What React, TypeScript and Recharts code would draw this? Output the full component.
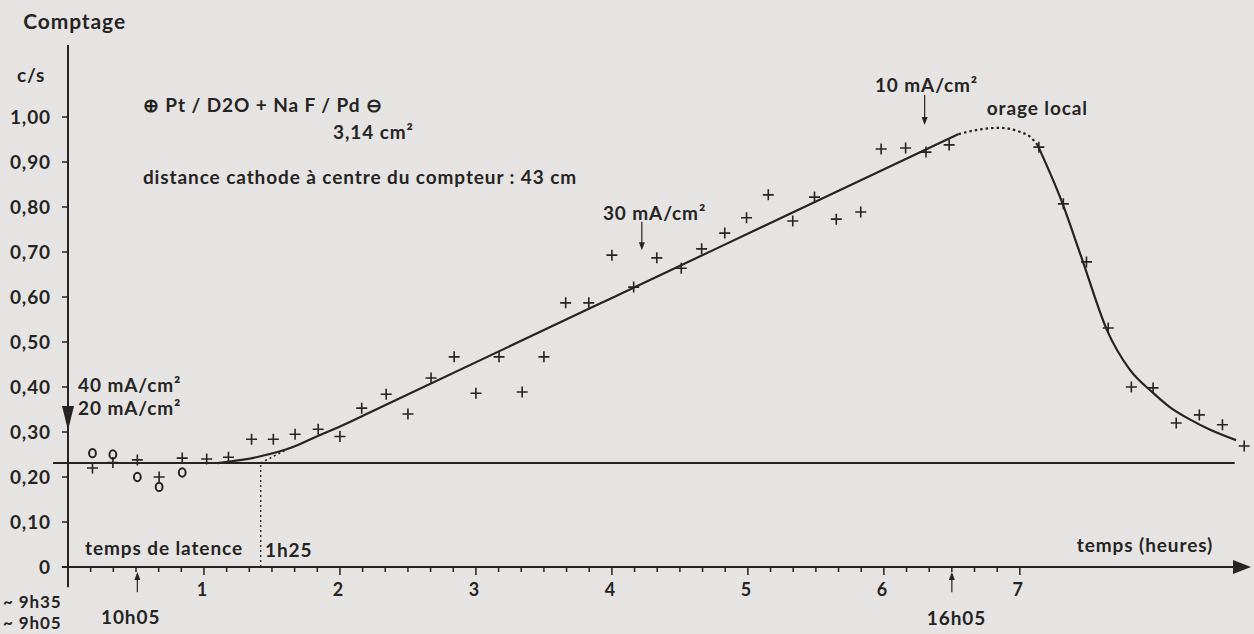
import { ComposedChart, Scatter, Line, XAxis, YAxis, ReferenceLine, ReferenceDot } from "recharts";

// hours since ~9h35, counts in c/s
const crossHours = [
  0.18, 0.33, 0.51, 0.67, 0.84, 1.02, 1.18, 1.35, 1.51, 1.67, 1.84, 2.0, 2.16, 2.34, 2.5, 2.67, 2.84,
  3.0, 3.17, 3.34, 3.5, 3.66, 3.83, 4.0, 4.16, 4.33, 4.51, 4.66, 4.83, 4.99, 5.15, 5.33, 5.49, 5.65,
  5.83, 5.98, 6.16, 6.31, 6.48, 7.14, 7.32, 7.49, 7.65, 7.82, 7.98, 8.15, 8.32, 8.49, 8.65,
];
const crossCounts = [
  0.22, 0.232, 0.238, 0.2, 0.242, 0.24, 0.244, 0.284, 0.284, 0.295, 0.306, 0.29, 0.353, 0.384, 0.34,
  0.42, 0.467, 0.386, 0.467, 0.389, 0.467, 0.587, 0.587, 0.693, 0.622, 0.687, 0.664, 0.707, 0.742,
  0.776, 0.827, 0.769, 0.822, 0.773, 0.789, 0.929, 0.931, 0.922, 0.938, 0.933, 0.807, 0.678, 0.531,
  0.4, 0.398, 0.32, 0.338, 0.316, 0.269,
];
const circleHours = [0.18, 0.33, 0.51, 0.67, 0.84];
const circleCounts = [0.253, 0.25, 0.2, 0.178, 0.21];

// hand-drawn fit curve
const riseHours = [1.1, 1.4, 1.65, 1.85, 2.0, 2.3, 4.0, 5.5, 6.55];
const riseCounts = [0.231, 0.245, 0.266, 0.293, 0.312, 0.355, 0.598, 0.812, 0.962];
const stormHours = [6.55, 6.7, 6.85, 7.0, 7.08, 7.13];
const stormCounts = [0.962, 0.972, 0.976, 0.967, 0.955, 0.938];
const fallHours = [7.13, 7.31, 7.46, 7.64, 7.81, 7.98, 8.1, 8.25, 8.4, 8.59];
const fallCounts = [0.938, 0.811, 0.682, 0.527, 0.438, 0.387, 0.356, 0.328, 0.305, 0.282];
const extraHours = [1.417, 1.65];
const extraCounts = [0.231, 0.268];

const baseline = 0.231;
const latency = 1.417; // 1h25
const countTicks = [0, 0.1, 0.2, 0.3, 0.4, 0.5, 0.6, 0.7, 0.8, 0.9, 1.0];
const hourTicks = Array.from({ length: 42 }, (_, i) => (i + 1) / 6);

const zip = (xs: number[], ys: number[]) => xs.map((x, i) => ({ x, y: ys[i] }));
const crosses = zip(crossHours, crossCounts);
const circles = zip(circleHours, circleCounts);

const INK = "#252423";
const FONT = "Lato, 'Open Sans', sans-serif";

const notes = [
  { x: -0.33, y: 1.211, text: "Comptage", size: 21 },
  { x: -0.375, y: 1.093, text: "c/s" },
  { x: 0.551, y: 1.027, text: "⊕ Pt / D2O + Na F / Pd ⊖" },
  { x: 1.949, y: 0.967, text: "3,14 cm²" },
  { x: 0.551, y: 0.867, text: "distance cathode à centre du compteur : 43 cm" },
  { x: 0.074, y: 0.404, text: "40 mA/cm²" },
  { x: 0.074, y: 0.353, text: "20 mA/cm²" },
  { x: 0.125, y: 0.042, text: "temps de latence" },
  { x: 1.449, y: 0.038, text: "1h25" },
  { x: 3.934, y: 0.787, text: "30 mA/cm²" },
  { x: 5.934, y: 1.071, text: "10 mA/cm²" },
  { x: 6.757, y: 1.02, text: "orage local" },
  { x: 7.419, y: 0.049, text: "temps (heures)" },
  { x: -0.478, y: -0.078, text: "~ 9h35", size: 17 },
  { x: -0.478, y: -0.124, text: "~ 9h05", size: 17 },
  { x: 0.243, y: -0.111, text: "10h05" },
  { x: 6.316, y: -0.113, text: "16h05" },
];

const arrows = [
  { x: 4.22, from: 0.767, to: 0.704 },
  { x: 6.3, from: 1.049, to: 0.982 },
  { x: 0.51, from: -0.056, to: -0.011 },
  { x: 6.5, from: -0.056, to: -0.011 },
];

const Cross = (p: any) => (
  <path d={`M${p.cx - 5.5},${p.cy}h11M${p.cx},${p.cy - 5.5}v11`} stroke={INK} strokeWidth={1.6} fill="none" />
);
const Ring = (p: any) => (
  <ellipse cx={p.cx} cy={p.cy} rx={3.4} ry={4.2} stroke={INK} strokeWidth={2} fill="none" />
);

const XTick = ({ x, y, payload }: any) => {
  const v = payload.value;
  const major = Math.abs(v - Math.round(v)) < 1e-6;
  return (
    <g>
      <line x1={x} x2={x} y1={y} y2={y + (major ? 8 : 5)} stroke={INK} strokeWidth={1.5} />
      {major && (
        <text x={x - 2} y={y + 29} textAnchor="middle" fill={INK} fontSize={18} fontWeight={700} fontFamily={FONT}>
          {Math.round(v)}
        </text>
      )}
    </g>
  );
};

// labels sit left of the axis, right-aligned
const YTick = ({ y, payload }: any) => {
  const v = payload.value;
  return (
    <text x={51} y={y} dy="0.35em" textAnchor="end" fill={INK} fontSize={19} fontWeight={700} fontFamily={FONT} letterSpacing={0.9}>
      {v === 0 ? "0" : v.toFixed(2).replace(".", ",")}
    </text>
  );
};

const arrowShape = (p: any) => {
  const dir = p.y2 > p.y1 ? 1 : -1;
  return (
    <g>
      <line x1={p.x1} y1={p.y1} x2={p.x2} y2={p.y2 - dir * 6} stroke={INK} strokeWidth={1.2} />
      <path d={`M${p.x2 - 3},${p.y2 - dir * 8}L${p.x2 + 3},${p.y2 - dir * 8}L${p.x2},${p.y2}Z`} fill={INK} />
    </g>
  );
};

const axisArrow = (p: any) => (
  <g>
    <line x1={p.x1} y1={p.y1} x2={p.x2 - 12} y2={p.y2} stroke={INK} strokeWidth={2} />
    <path d={`M${p.x2 - 18},${p.y2 - 7}L${p.x2},${p.y2}L${p.x2 - 18},${p.y2 + 7}Z`} fill={INK} />
  </g>
);

const bigDown = (p: any) => (
  <path d={`M${p.x1 - 6},${p.y1}L${p.x1 + 6},${p.y1}L${p.x2},${p.y2}Z`} fill={INK} />
);

export default function App() {
  return (
    <div style={{ position: "absolute", left: 0, top: 0, width: 1254, height: 634, background: "#e6e4e2" }}>
      <ComposedChart width={1254} height={634} margin={{ top: 45, right: 3, bottom: 0, left: 0 }}>
        <XAxis
          type="number"
          dataKey="x"
          domain={[0, 8.7]}
          ticks={hourTicks}
          interval={0}
          allowDataOverflow
          axisLine={false}
          tickLine={false}
          tickSize={0}
          tickMargin={0}
          height={67}
          tick={<XTick />}
        />
        <YAxis
          type="number"
          dataKey="y"
          domain={[0, 1.16]}
          ticks={countTicks}
          interval={0}
          allowDataOverflow
          width={68}
          axisLine={false}
          tickLine={{ stroke: INK, strokeWidth: 1.5 }}
          tickSize={6}
          tick={<YTick />}
        />

        <ReferenceLine segment={[{ x: 0, y: -0.045 }, { x: 0, y: 1.16 }]} stroke={INK} strokeWidth={2} ifOverflow="visible" />
        <ReferenceLine segment={[{ x: -0.045, y: 0 }, { x: 8.7, y: 0 }]} ifOverflow="visible" shape={axisArrow} />
        <ReferenceLine segment={[{ x: -0.11, y: baseline }, { x: 8.58, y: baseline }]} stroke={INK} strokeWidth={2} ifOverflow="visible" />
        <ReferenceLine segment={[{ x: latency, y: 0 }, { x: latency, y: baseline }]} stroke={INK} strokeWidth={1.3} strokeDasharray="2 3" ifOverflow="visible" />
        <ReferenceLine segment={[{ x: 0, y: 0.358 }, { x: 0, y: 0.304 }]} ifOverflow="visible" shape={bigDown} />
        {arrows.map((a, i) => (
          <ReferenceLine key={`a${i}`} segment={[{ x: a.x, y: a.from }, { x: a.x, y: a.to }]} ifOverflow="visible" shape={arrowShape} />
        ))}

        <Line data={zip(riseHours, riseCounts)} dataKey="y" type="monotone" stroke={INK} strokeWidth={2.2} dot={false} isAnimationActive={false} />
        <Line data={zip(extraHours, extraCounts)} dataKey="y" type="linear" stroke={INK} strokeWidth={1.6} strokeDasharray="2 3" dot={false} isAnimationActive={false} />
        <Line data={zip(stormHours, stormCounts)} dataKey="y" type="monotone" stroke={INK} strokeWidth={2.2} strokeDasharray="2.5 3" dot={false} isAnimationActive={false} />
        <Line data={zip(fallHours, fallCounts)} dataKey="y" type="monotone" stroke={INK} strokeWidth={2.2} dot={false} isAnimationActive={false} />

        <Scatter data={circles} dataKey="y" shape={Ring} isAnimationActive={false} />
        <Scatter data={crosses} dataKey="y" shape={Cross} isAnimationActive={false} />

        {notes.map((n, i) => (
          <ReferenceDot
            key={`n${i}`}
            x={n.x}
            y={n.y}
            r={0}
            ifOverflow="visible"
            shape={(p: any) => (
              <text x={p.cx} y={p.cy} dy="0.35em" fill={INK} fontSize={n.size ?? 19} fontWeight={700} fontFamily={FONT} letterSpacing={0.9}>
                {n.text}
              </text>
            )}
          />
        ))}
      </ComposedChart>
    </div>
  );
}
